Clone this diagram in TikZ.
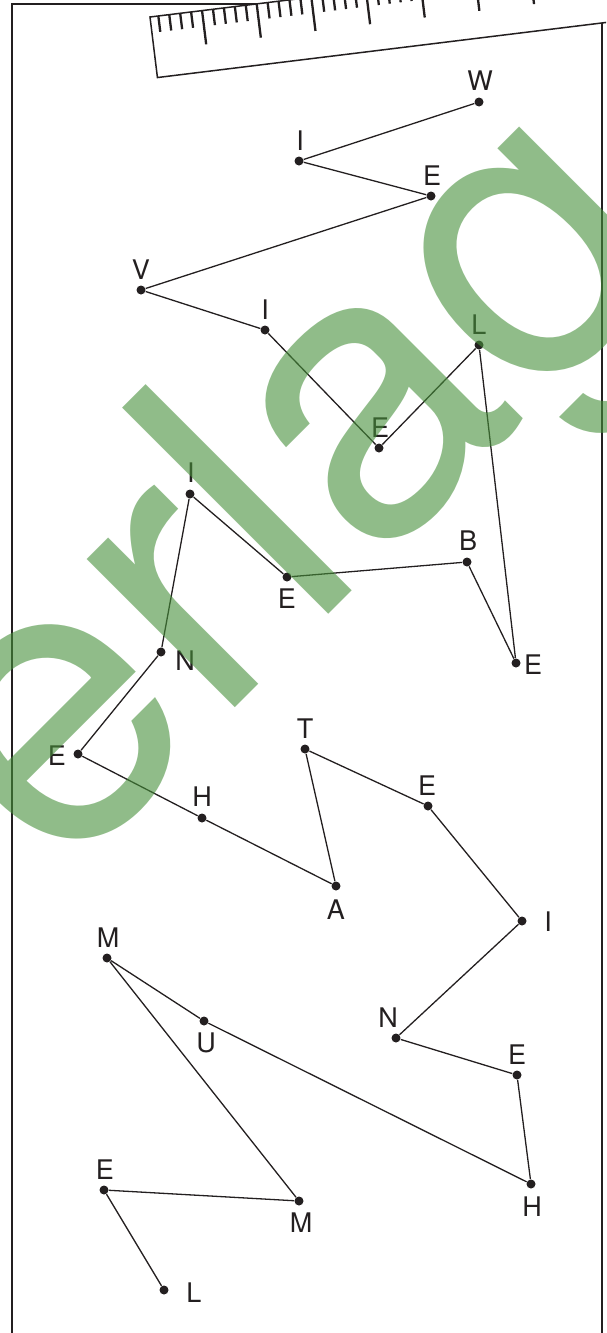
\documentclass[tikz,border=0pt]{standalone}
\usepackage{fontspec}
\usepackage{xcolor}
\usepackage{tikz}
\newfontfamily\heros{TeX Gyre Heros}
\definecolor{ink}{RGB}{35,31,32}
\definecolor{wmgreen}{RGB}{70,143,58}

\begin{document}
\begin{tikzpicture}[x=0.5pt,y=-0.5pt,font=\heros\fontsize{13.5}{14}\selectfont,
  dot/.style={circle,fill=ink,inner sep=0pt,minimum size=4.5pt},
  lbl/.style={inner sep=0pt,text=ink},
  link/.style={draw=ink,line width=0.65pt},
  frame/.style={draw=ink,line width=0.8pt},
  tick/.style={draw=ink,line width=1.15pt},
  wm/.style={inner sep=0pt,rotate=45,anchor=base west,text=wmgreen,text opacity=0.6,
    font=\heros\fontsize{200}{200}\selectfont}]
\useasboundingbox (0,0) rectangle (606,1333);
\clip (0,0) rectangle (606,1333);
% sheet
\draw[frame] (12,1340) -- (12,4) -- (602,4) -- (602,1340);
% ruler
\begin{scope}[shift={(150,17)},rotate=7]
\draw[frame,line width=0.75pt,fill=white] (0,0) rectangle (620,61);
\foreach \i in {0,...,45}{
  \pgfmathsetmacro\len{ifthenelse(mod(\i,5)==4,34,16)}
  \draw[tick] (8.4+11.01*\i,0) -- (8.4+11.01*\i,\len);
}
\end{scope}
% dots and letters
\foreach \n/\x/\y/\t/\lx/\ly in {
  w1/479/102/W/480/81, i1/299/161/I/300/141, e1/431/196/E/432/176,
  v1/141/290/V/141/270, i2/265/330/I/265/310, e2/379/448/E/380/428,
  l1/479/345/L/479/325, e3/516/663/E/533/665, b1/467/562/B/468/541,
  e4/287/577/E/287/599, i3/190/494/I/191/473, n1/161/652/N/185/661,
  e5/78/754/E/57/756, h1/202/818/H/202/797, a1/336/886/A/336/910,
  t1/305/749/T/305/729, e6/428/806/E/427/786, i4/522/921/I/548/922,
  n2/396/1038/N/388/1018, e7/517/1075/E/517/1055, h2/531/1184/H/532/1207,
  u1/204/1021/U/206/1043, m1/107/958/M/108/938, m2/299/1201/M/301/1223,
  e8/104/1190/E/105/1170, l2/164/1290/L/194/1293}{
  \node[dot] (\n) at (\x,\y) {};
  \node[lbl] (\n-t) at (\lx,\ly) {\t};
}
\draw[link] (w1) -- (i1) -- (e1) -- (v1) -- (i2) -- (e2) -- (l1) -- (e3) -- (b1)
  -- (e4) -- (i3) -- (n1) -- (e5) -- (h1) -- (a1) -- (t1) -- (e6) -- (i4)
  -- (n2) -- (e7) -- (h2) -- (u1) -- (m1) -- (m2) -- (e8) -- (l2);
% watermark
\node[wm] (mark) at (58,885) {erlag};
\end{tikzpicture}
\end{document}
